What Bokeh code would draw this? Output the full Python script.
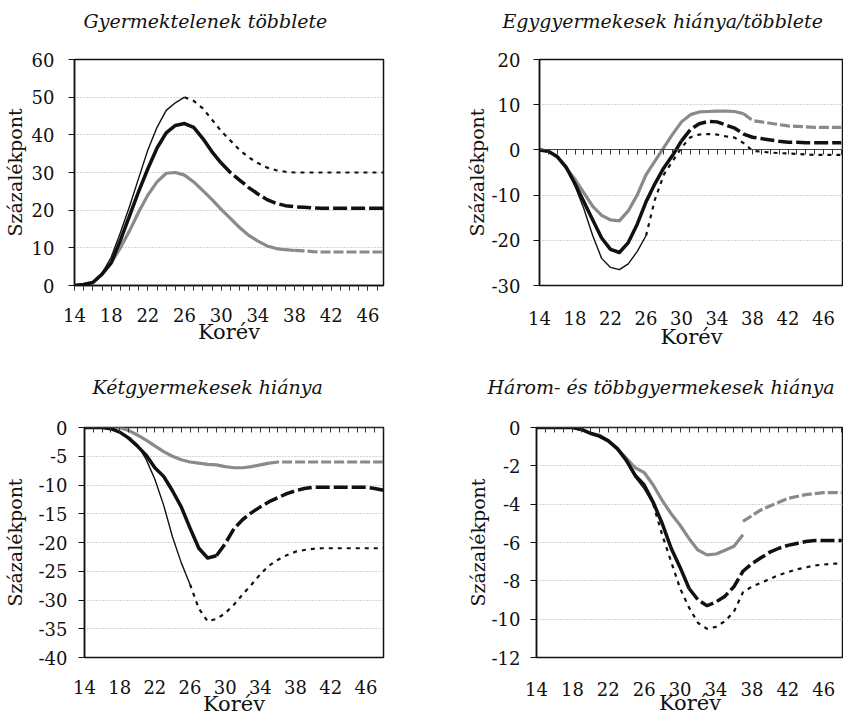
from bokeh.plotting import figure
from bokeh.layouts import column, row
from bokeh.models import Range1d, FixedTicker, LinearAxis, Title
from bokeh.embed import file_html
from bokeh.resources import INLINE

FONT = "DejaVu Serif"
X_LABEL_TICKS = [14, 18, 22, 26, 30, 34, 38, 42, 46]
X_MINOR_TICKS = list(range(14, 49))
FIRST_AGE = 14
LAST_AGE = 48
X_TITLE = "Korév"
Y_TITLE = "Százalékpont"

# ---- Panel 1: Gyermektelenek többlete
P1_TITLE = "Gyermektelenek többlete"
P1_YTICKS = [0, 10, 20, 30, 40, 50, 60]
P1_THIN_OBS = [0, 0.3, 0.8, 3.2, 7.5, 14, 21, 28.5, 36, 42, 46.5, 48.5, 50]
P1_THIN_PROJ = [50, 49, 47, 44, 41, 38.5, 36, 34, 32.5, 31.3, 30.6, 30.2, 30,
                30, 30, 30, 30, 30, 30, 30, 30, 30, 30]
P1_THICK_OBS = [0, 0.3, 0.8, 3, 6, 12, 18.5, 25, 31, 36.5, 40.5, 42.5, 43, 42,
                39, 35.5, 32.5]
P1_THICK_PROJ = [32.5, 30, 28, 26, 24.3, 22.8, 21.8, 21.2, 20.9, 20.8, 20.6,
                 20.5, 20.5, 20.5, 20.5, 20.5, 20.5, 20.5, 20.5]
P1_GRAY_OBS = [0, 0.3, 0.8, 3, 6, 10, 14.5, 19.5, 24, 27.5, 29.8, 30, 29.3, 27.5,
               25.2, 22.8, 20.2, 17.8, 15.4, 13.3, 11.8, 10.5, 9.8, 9.5, 9.3]
P1_GRAY_PROJ = [9.3, 9.2, 9.0, 8.9, 8.9, 8.9, 8.9, 8.9, 8.9, 8.9, 8.9]

# ---- Panel 2: Egygyermekesek hiánya/többlete
P2_TITLE = "Egygyermekesek hiánya/többlete"
P2_YTICKS = [-30, -20, -10, 0, 10, 20]
P2_THIN_OBS = [0, -0.3, -1.5, -4, -8, -13, -19, -24, -26, -26.5, -25.2, -22.5, -19]
P2_THIN_PROJ = [-19, -11, -5.5, -2.5, 0.5, 2.8, 3.4, 3.5, 3.4, 3.0, 2.7, 1.5,
                -0.2, -0.4, -0.6, -0.7, -0.8, -0.9, -1.0, -1.1, -1.1, -1.1, -1.1]
P2_THICK_OBS = [0, -0.3, -1.5, -3.8, -7.5, -11.5, -15.5, -19.5, -22, -22.7,
                -20.5, -16.5, -11.5, -7.5, -4, -1.2, 2]
P2_THICK_PROJ = [2, 4.5, 5.8, 6.3, 6.2, 5.5, 4.8, 3.5, 2.8, 2.5, 2.2, 1.9, 1.7,
                 1.7, 1.6, 1.6, 1.6, 1.6, 1.6]
P2_GRAY_OBS = [0, -0.3, -1.5, -4, -6.5, -9.5, -12.5, -14.5, -15.5, -15.7, -13.5,
               -10, -5.5, -2.5, 0.5, 3.5, 6.2, 7.8, 8.4, 8.5, 8.6, 8.6, 8.5, 8.0]
P2_GRAY_PROJ = [8.0, 6.5, 6.2, 5.9, 5.6, 5.3, 5.2, 5.1, 5.0, 5.0, 5.0, 5.0]

# ---- Panel 3: Kétgyermekesek hiánya
P3_TITLE = "Kétgyermekesek hiánya"
P3_YTICKS = [-40, -35, -30, -25, -20, -15, -10, -5, 0]
P3_THIN_OBS = [0, 0, 0, -0.2, -0.8, -2, -3, -5.5, -9, -13.5, -19, -23.5, -27.3]
P3_THIN_PROJ = [-27.3, -31.5, -33.7, -33.3, -32.3, -30.8, -29, -27.3, -25.5, -24,
                -23, -22.2, -21.6, -21.3, -21.1, -21, -21, -21, -21, -21, -21,
                -21, -21]
P3_THICK_OBS = [0, 0, 0, -0.2, -0.8, -1.8, -3.2, -4.8, -7, -8.5, -11, -13.8,
                -17.5, -21, -22.7, -22.3]
P3_THICK_PROJ = [-22.3, -20.2, -17.6, -16, -14.8, -13.8, -12.9, -12.2, -11.5,
                 -11, -10.6, -10.4, -10.4, -10.4, -10.4, -10.4, -10.4, -10.4,
                 -10.6, -10.9]
P3_GRAY_OBS = [0, 0, 0, 0, 0, -0.5, -1.3, -2.2, -3.2, -4.2, -5, -5.6, -6, -6.2,
               -6.4, -6.5, -6.8, -7, -7, -6.8, -6.5, -6.2]
P3_GRAY_PROJ = [-6.2, -6, -6, -6, -6, -6, -6, -6, -6, -6, -6, -6, -6, -6]

# ---- Panel 4: Három- és többgyermekesek hiánya
P4_TITLE = "Három- és többgyermekesek hiánya"
P4_YTICKS = [-12, -10, -8, -6, -4, -2, 0]
P4_THIN_OBS = [0, 0, 0, 0, 0, -0.1, -0.3, -0.45, -0.7, -1.1, -1.8, -2.6, -3.2, -4.0]
P4_THIN_PROJ = [-4.0, -5.6, -7.0, -8.4, -9.4, -10.2, -10.5, -10.4, -10.1, -9.6,
                -8.6, -8.3, -8.1, -7.9, -7.7, -7.55, -7.4, -7.3, -7.2, -7.15,
                -7.1, -7.1]
P4_THICK_OBS = [0, 0, 0, 0, 0, -0.1, -0.3, -0.45, -0.7, -1.1, -1.7, -2.5, -3.0,
                -3.9, -5.0, -6.3, -7.3, -8.4]
P4_THICK_PROJ = [-8.4, -9.0, -9.3, -9.1, -8.8, -8.3, -7.5, -7.1, -6.8, -6.5,
                 -6.3, -6.15, -6.05, -5.95, -5.9, -5.9, -5.9, -5.9]
P4_GRAY_OBS = [0, 0, 0, 0, 0, -0.1, -0.3, -0.4, -0.7, -1.1, -1.6, -2.1, -2.35,
               -3.0, -3.8, -4.5, -5.1, -5.8, -6.4, -6.65, -6.6, -6.4, -6.2, -5.6]
P4_GRAY_PROJ = [-4.9, -4.6, -4.3, -4.1, -3.9, -3.7, -3.6, -3.5, -3.45, -3.4,
                -3.4, -3.4]

BLACK = "#111111"
GRAY = "#8a8a8a"


def obs_ages(vals):
    return list(range(FIRST_AGE, FIRST_AGE + len(vals)))


def proj_ages(vals):
    return list(range(LAST_AGE - len(vals) + 1, LAST_AGE + 1))


def make_panel(title, yticks, xend, series, width, height, borders,
               title_offset, title_standoff, ylab_standoff, ymaj_standoff,
               xlab_standoff, xtitle_standoff, zero_axis):
    left, right, top, bottom = borders
    p = figure(width=width, height=height,
               x_range=Range1d(FIRST_AGE, xend),
               y_range=Range1d(min(yticks), max(yticks)),
               output_backend="svg", toolbar_location=None,
               min_border_left=left, min_border_right=right,
               min_border_top=top, min_border_bottom=bottom,
               background_fill_color="white", border_fill_color="white")
    p.outline_line_color = BLACK
    p.outline_line_width = 1.5

    ya = p.left[0]
    xa = p.below[0]

    ya.ticker = FixedTicker(ticks=yticks)
    ya.major_label_overrides = {t: str(t) for t in yticks}
    ya.major_tick_out = 6
    ya.major_tick_in = 0
    ya.minor_tick_out = 0
    ya.axis_line_width = 1.5
    ya.axis_line_color = BLACK
    ya.major_tick_line_color = BLACK
    ya.major_label_text_font = FONT
    ya.major_label_text_font_size = "18px"
    ya.major_label_text_color = BLACK
    ya.major_label_standoff = ymaj_standoff
    ya.axis_label = Y_TITLE
    ya.axis_label_text_font = FONT
    ya.axis_label_text_font_size = "19px"
    ya.axis_label_text_font_style = "normal"
    ya.axis_label_text_color = BLACK
    ya.axis_label_standoff = ylab_standoff

    xa.ticker = FixedTicker(ticks=X_LABEL_TICKS,
                            minor_ticks=X_MINOR_TICKS if not zero_axis else [])
    xa.major_label_text_font = FONT
    xa.major_label_text_font_size = "18px"
    xa.major_label_text_color = BLACK
    xa.major_label_standoff = xlab_standoff
    xa.axis_label = X_TITLE
    xa.axis_label_text_font = FONT
    xa.axis_label_text_font_size = "21px"
    xa.axis_label_text_font_style = "normal"
    xa.axis_label_text_color = BLACK
    xa.axis_label_standoff = xtitle_standoff
    if zero_axis:
        xa.major_tick_out = 0
        xa.major_tick_in = 0
        xa.minor_tick_out = 0
        xa.minor_tick_in = 0
        xa.axis_line_color = None
        za = LinearAxis(fixed_location=0,
                        ticker=FixedTicker(ticks=[], minor_ticks=X_MINOR_TICKS),
                        minor_tick_out=5, minor_tick_in=0,
                        minor_tick_line_color="#333333",
                        axis_line_color="#444444", axis_line_width=1)
        p.add_layout(za, "below")
    else:
        xa.major_tick_out = 5
        xa.major_tick_in = 0
        xa.minor_tick_out = 5
        xa.minor_tick_in = 0
        xa.axis_line_color = BLACK
        xa.axis_line_width = 1.5
        xa.major_tick_line_color = "#333333"
        xa.minor_tick_line_color = "#333333"

    # title text with a trailing empty line, which lifts it away from the frame
    p.add_layout(Title(text=title + "\n", align="left", offset=title_offset,
                       vertical_align="bottom", standoff=title_standoff,
                       text_font=FONT, text_font_size="19px",
                       text_font_style="italic", text_color=BLACK), "above")

    p.xgrid.visible = False
    p.ygrid.ticker = FixedTicker(ticks=yticks)
    p.ygrid.grid_line_color = "#a8a8a8"
    p.ygrid.grid_line_dash = "1 2"
    p.ygrid.grid_line_width = 1

    gray_obs, gray_proj, thick_obs, thick_proj, thin_obs, thin_proj = series
    p.line(obs_ages(gray_obs), gray_obs, line_color=GRAY, line_width=3.2,
           line_join="round")
    p.line(proj_ages(gray_proj), gray_proj, line_color=GRAY, line_width=3.2,
           line_dash="10 3")
    p.line(obs_ages(thick_obs), thick_obs, line_color=BLACK, line_width=3.5,
           line_join="round")
    p.line(proj_ages(thick_proj), thick_proj, line_color=BLACK, line_width=3.5,
           line_dash="14 4")
    p.line(obs_ages(thin_obs), thin_obs, line_color=BLACK, line_width=1.4,
           line_join="round")
    p.line(proj_ages(thin_proj), thin_proj, line_color=BLACK, line_width=2.2,
           line_dash="4 5")
    return p


p1 = make_panel(P1_TITLE, P1_YTICKS, 47.7,
                (P1_GRAY_OBS, P1_GRAY_PROJ, P1_THICK_OBS, P1_THICK_PROJ,
                 P1_THIN_OBS, P1_THIN_PROJ),
                420, 366, (73, 37, 59, 81), 9, 12, 3, 14, 17, -5, False)
p2 = make_panel(P2_TITLE, P2_YTICKS, 48.25,
                (P2_GRAY_OBS, P2_GRAY_PROJ, P2_THICK_OBS, P2_THICK_PROJ,
                 P2_THIN_OBS, P2_THIN_PROJ),
                423, 366, (119, 0, 59, 78), -37, 12, 1, 13, 25, -3, True)
p3 = make_panel(P3_TITLE, P3_YTICKS, 48.0,
                (P3_GRAY_OBS, P3_GRAY_PROJ, P3_THICK_OBS, P3_THICK_PROJ,
                 P3_THIN_OBS, P3_THIN_PROJ),
                420, 353, (79, 37, 61, 62), 8, 15, 10, 11, 22, -5, True)
p4 = make_panel(P4_TITLE, P4_YTICKS, 48.2,
                (P4_GRAY_OBS, P4_GRAY_PROJ, P4_THICK_OBS, P4_THICK_PROJ,
                 P4_THIN_OBS, P4_THIN_PROJ),
                423, 353, (116, 0, 61, 61), -49, 15, 0, 10, 24, -8, True)

layout = column(row(p1, p2), row(p3, p4))
open("out.html", "w").write(file_html(layout, INLINE))
